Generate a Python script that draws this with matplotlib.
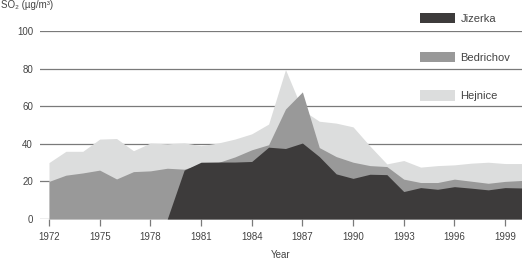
import matplotlib
matplotlib.use('Agg')

import numpy as np
import matplotlib.pyplot as plt

# SO2 yearly means
years = list(range(1972, 2001))

hejnice = [30, 36, 36, 42.5, 42.8, 36.3, 40.4, 40, 40.5, 39,
           40.4, 42.5, 45.3, 50.5, 79.5, 58, 52, 51, 49, 38.8,
           29.3, 31.1, 27.6, 28.4, 28.8, 29.7, 30.2, 29.5, 29.5]

bedrichov = [20, 23.3, 24.5, 26, 21.3, 25.2, 25.6, 27, 26.5, 29,
             30, 33, 36.8, 39.5, 58.5, 67.6, 38, 33.2, 30.2, 28.4,
             27.9, 21.2, 19.4, 19.4, 21.2, 20.1, 19, 20, 20.5]

jizerka = [0, 0, 0, 0, 0, 0, 0, 0, 26, 30.2,
           30.3, 30.3, 30.6, 38.2, 37.5, 40.4, 33.2, 24, 21.6, 23.8,
           23.6, 14.6, 16.7, 15.8, 17.2, 16.4, 15.5, 16.7, 16.5]

xticks = np.arange(1972, 2001, 3)
yticks = np.arange(0, 101, 20)

plt.rcParams['font.family'] = ['Liberation Sans', 'DejaVu Sans']

fig = plt.figure(figsize=(5.22, 2.59), dpi=100)
ax = fig.add_axes([40 / 522, 40 / 259, 482 / 522, 188 / 259])

text_col = '#444444'
grid_col = '#7a7a7a'

# areas are overlaid, not stacked
ax.fill_between(years, hejnice, color='#dcdddd', lw=0, label='Hejnice', zorder=2)
ax.fill_between(years, bedrichov, color='#999999', lw=0, label='Bedrichov', zorder=3)
ax.fill_between(years, jizerka, color='#3d3b3b', lw=0, label='Jizerka', zorder=4)

ax.set_xlim(1972 - 9 / 16.9, 2000)
ax.set_ylim(0, 100)
ax.set_xticks(xticks)
ax.set_yticks(yticks)

ax.yaxis.grid(True, color=grid_col, lw=0.9, zorder=1)
ax.set_axisbelow(True)
for s in ax.spines.values():
    s.set_visible(False)

ax.tick_params(axis='y', length=0, pad=5, labelsize=7, labelcolor=text_col)
ax.tick_params(axis='x', length=5, width=0.9, color=grid_col, pad=4,
               labelsize=7, labelcolor=text_col)

ax.set_xlabel('Year', fontsize=7, color=text_col, labelpad=6)
fig.text(1 / 522, 1 - 5 / 259, 'SO₂ (µg/m³)', fontsize=7, color=text_col,
         ha='left', va='center')

# legend, in the order of the original
handles, labels = ax.get_legend_handles_labels()
order = [2, 1, 0]
leg = fig.legend([handles[i] for i in order], [labels[i] for i in order],
                 loc='upper left', bbox_to_anchor=(420 / 522, 1 - 13 / 259),
                 frameon=False, fontsize=8, handlelength=3.15, handleheight=1.05,
                 handletextpad=0.5, labelspacing=2.5, borderpad=0, borderaxespad=0)
for t in leg.get_texts():
    t.set_color(text_col)

plt.savefig('out.png', dpi=100)
